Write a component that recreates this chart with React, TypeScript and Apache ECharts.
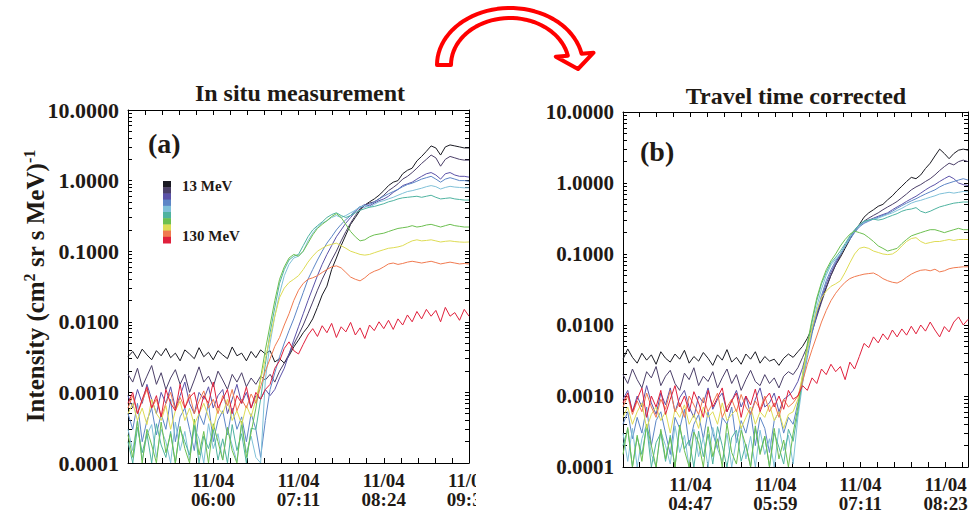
import { useEffect, useRef } from "react";
import * as echarts from "echarts";

// ---------- data ----------
const channelLabels = ["13 MeV", "130 MeV"];
const channelColors = ["#1a1a22", "#4b3f68", "#5b52a8", "#5d86c6", "#7fc0d8", "#4fb3a0", "#6cbf50", "#dedc55", "#f07a50", "#e0203c"];

// panel (a): minutes of day, 4-min samples from 04:48
const startA = 288;
const endA = 576;
const stepA = 4;
const xLabelPosA = [360, 432, 504, 576];
const xLabelsA = ["11/04\n06:00", "11/04\n07:11", "11/04\n08:24", "11/04\n09:36"];

// panel (b): 4-min samples from 03:50
const startB = 230;
const endB = 522;
const stepB = 4;
const xLabelPosB = [287, 359, 431, 503];
const xLabelsB = ["11/04\n04:47", "11/04\n05:59", "11/04\n07:11", "11/04\n08:23"];

const yTicks = [0.0001, 0.001, 0.01, 0.1, 1, 10];

const a1 = [3.2e-3,3.8e-3,3.0e-3,4.1e-3,3.4e-3,2.9e-3,3.9e-3,3.3e-3,4.2e-3,3.1e-3,3.6e-3,2.8e-3,4.0e-3,3.5e-3,3.0e-3,4.3e-3,3.2e-3,3.7e-3,2.9e-3,3.9e-3,3.4e-3,3.0e-3,4.4e-3,3.3e-3,3.6e-3,2.8e-3,3.8e-3,3.1e-3,4.0e-3,3.5e-3,
  3.9e-3,2.7e-3,3.0e-3,2.6e-3,3.3e-3,4.4e-3,5.5e-3,7e-3,8.5e-3,1.1e-2,1.6e-2,2.4e-2,3.2e-2,
  5.5e-2,8e-2,0.12,0.17,0.24,0.3,0.38,0.45,0.5,0.55,0.62,0.72,0.85,
  0.95,1.0,1.25,1.4,1.5,1.9,2.2,2.6,3.1,2.9,2.3,3.0,3.2,3.1,3.0,2.9,2.9];
const a2 = [1.8e-3,1.4e-3,2.2e-3,1.2e-3,1.7e-3,2.4e-3,1.3e-3,1.9e-3,1.1e-3,1.6e-3,2.1e-3,1.3e-3,1.8e-3,1.0e-3,1.5e-3,2.3e-3,1.4e-3,1.7e-3,1.2e-3,2.0e-3,1.5e-3,1.1e-3,1.8e-3,1.4e-3,1.9e-3,1.2e-3,1.6e-3,1.3e-3,1.7e-3,1.5e-3,
  1.8e-3,1.4e-3,2.0e-3,2.6e-3,3.5e-3,4.8e-3,6.5e-3,9e-3,1.3e-2,1.9e-2,2.8e-2,4e-2,5.5e-2,
  7.5e-2,0.1,0.14,0.19,0.25,0.32,0.4,0.45,0.48,0.5,0.55,0.62,0.72,
  0.8,0.9,1.05,1.15,1.3,1.5,1.75,2.0,2.3,2.1,1.6,2.0,2.2,2.1,2.0,1.95,1.95];
const a3 = [9e-4,6e-4,1.1e-3,7e-4,1.3e-3,8e-4,5e-4,1.0e-3,7e-4,1.2e-3,6e-4,9e-4,1.4e-3,7e-4,5e-4,1.0e-3,8e-4,1.2e-3,6e-4,9e-4,1.1e-3,5e-4,8e-4,1.3e-3,7e-4,1.0e-3,6e-4,9e-4,8e-4,1.1e-3,
  9e-4,1.1e-3,1.6e-3,2.2e-3,3.5e-3,5.5e-3,8.5e-3,1.3e-2,2e-2,3e-2,4.5e-2,6.5e-2,9e-2,
  0.12,0.16,0.2,0.25,0.3,0.36,0.42,0.46,0.44,0.48,0.52,0.55,0.6,
  0.68,0.75,0.85,0.9,0.95,1.05,1.15,1.25,1.3,1.2,1.05,1.25,1.3,1.2,1.15,1.15,1.12];
const a4 = [5e-4,3e-4,7e-4,2e-4,4e-4,6e-4,2.5e-4,5e-4,3e-4,8e-4,2e-4,4.5e-4,6e-4,3e-4,1.5e-4,5e-4,3.5e-4,7e-4,2e-4,4e-4,5.5e-4,2.5e-4,6e-4,3e-4,4.5e-4,2e-4,5e-4,3e-4,1.2e-4,4e-4,
  1.1e-3,1.9e-3,3.2e-3,5e-3,7.5e-3,1.1e-2,1.7e-2,2.6e-2,4e-2,5.5e-2,7.5e-2,0.1,0.13,
  0.16,0.2,0.24,0.28,0.32,0.38,0.43,0.42,0.46,0.5,0.55,0.6,0.65,
  0.7,0.75,0.82,0.88,0.92,0.98,1.05,1.1,1.15,1.05,0.95,1.05,1.1,1.05,1.0,1.0,0.98];
const a5 = [3e-4,1.5e-4,4e-4,1.1e-4,2.5e-4,3.5e-4,1.2e-4,3e-4,2e-4,1.0e-4,3.8e-4,1.5e-4,2.8e-4,1.1e-4,3.2e-4,2.2e-4,1.0e-4,3.6e-4,1.6e-4,2.6e-4,1.1e-4,3e-4,1.8e-4,1.05e-4,3.4e-4,1.4e-4,2.4e-4,
  1.2e-4,1.0e-4,1.5e-3,5e-3,1.2e-2,2.5e-2,4.5e-2,6.5e-2,8e-2,8.5e-2,0.1,0.14,0.18,0.22,0.25,0.27,
  0.3,0.32,0.3,0.32,0.35,0.38,0.42,0.45,0.42,0.46,0.5,0.52,0.55,
  0.58,0.62,0.66,0.7,0.72,0.75,0.78,0.82,0.85,0.82,0.76,0.8,0.83,0.81,0.8,0.79,0.79];
const a6 = [2e-4,1.0e-4,3.2e-4,1.4e-4,2.6e-4,1.0e-4,3.6e-4,1.8e-4,1.2e-4,2.8e-4,1.0e-4,3e-4,2e-4,1.3e-4,3.4e-4,1.0e-4,2.4e-4,1.6e-4,3e-4,1.1e-4,2.2e-4,1.0e-4,3.5e-4,1.5e-4,2.6e-4,1.0e-4,3.1e-4,
  3e-4,8e-4,2.5e-3,7e-3,1.6e-2,3.5e-2,5.5e-2,7.5e-2,8.5e-2,9e-2,0.12,0.16,0.2,0.23,0.26,0.3,
  0.33,0.35,0.32,0.3,0.32,0.35,0.38,0.4,0.42,0.43,0.45,0.47,0.5,
  0.52,0.55,0.57,0.58,0.59,0.6,0.58,0.6,0.62,0.58,0.55,0.56,0.57,0.55,0.54,0.53,0.53];
const a7 = [2.5e-4,1.2e-4,4e-4,1.0e-4,3e-4,1.8e-4,1.0e-4,3.8e-4,1.4e-4,2.6e-4,1.0e-4,3.3e-4,1.6e-4,1.0e-4,4.2e-4,1.3e-4,2.8e-4,1.0e-4,3.6e-4,2e-4,1.1e-4,3.2e-4,1.5e-4,1.0e-4,3.9e-4,1.2e-4,2.7e-4,
  6e-4,1.6e-3,4e-3,9e-3,2e-2,4e-2,6e-2,8e-2,9e-2,8.5e-2,0.1,0.13,0.17,0.21,0.24,0.27,
  0.31,0.34,0.3,0.24,0.19,0.16,0.14,0.145,0.16,0.17,0.175,0.18,0.19,
  0.2,0.21,0.215,0.22,0.23,0.22,0.225,0.235,0.24,0.23,0.22,0.23,0.24,0.23,0.225,0.22,0.22];
const a8 = [5e-4,7e-4,4e-4,6e-4,3.5e-4,8e-4,5e-4,4e-4,6.5e-4,3e-4,5.5e-4,7.5e-4,4e-4,6e-4,3.5e-4,5e-4,7e-4,4.5e-4,3e-4,6e-4,5e-4,8e-4,4e-4,5.5e-4,3.5e-4,6.5e-4,4.5e-4,
  8e-4,1.5e-3,3e-3,6e-3,1.2e-2,2.2e-2,3e-2,3.6e-2,4e-2,4.5e-2,5.5e-2,7e-2,8.5e-2,0.1,0.11,0.12,
  0.125,0.13,0.12,0.11,0.1,0.095,0.09,0.088,0.09,0.095,0.1,0.105,0.11,
  0.112,0.115,0.12,0.13,0.14,0.145,0.14,0.142,0.145,0.14,0.135,0.138,0.14,0.137,0.135,0.134,0.135];
const a9 = [6e-4,9e-4,5e-4,7.5e-4,1.1e-3,6e-4,8e-4,4.5e-4,7e-4,1.0e-3,5.5e-4,8.5e-4,6e-4,9.5e-4,5e-4,7.5e-4,1.05e-3,6e-4,8e-4,5e-4,9e-4,6.5e-4,1.1e-3,5.5e-4,8e-4,6e-4,9.5e-4,7e-4,
  1.2e-3,2e-3,3e-3,4.5e-3,6e-3,9e-3,1.3e-2,2e-2,2.8e-2,3.5e-2,4e-2,4.2e-2,4.5e-2,5e-2,5.5e-2,
  6e-2,6.2e-2,5.8e-2,5e-2,4.3e-2,4e-2,3.8e-2,4.2e-2,4.8e-2,5.2e-2,5.5e-2,6e-2,6.6e-2,
  6.8e-2,6.5e-2,6.7e-2,7e-2,7.2e-2,7e-2,6.8e-2,7e-2,7.2e-2,6.9e-2,6.6e-2,6.8e-2,7e-2,6.8e-2,6.6e-2,6.7e-2,6.6e-2];
const a10 = [7e-4,1.0e-3,5e-4,8e-4,1.2e-3,6e-4,9e-4,4.5e-4,1.1e-3,7e-4,5.5e-4,1.3e-3,6e-4,8.5e-4,1.0e-3,5e-4,9e-4,7e-4,1.4e-3,6e-4,8e-4,1.1e-3,5e-4,9e-4,7e-4,1.2e-3,6e-4,1.0e-3,8e-4,1.1e-3,
  1.3e-3,2.2e-3,2.8e-3,4.2e-3,5.2e-3,3.9e-3,3.5e-3,4.8e-3,6.5e-3,8e-3,6.2e-3,8.8e-3,7.0e-3,
  9.5e-3,6.0e-3,8.5e-3,7.2e-3,9.8e-3,6.5e-3,8.2e-3,5.8e-3,9.0e-3,7.5e-3,1.0e-2,8.0e-3,1.05e-2,
  7.8e-3,1.1e-2,9e-3,1.25e-2,1.0e-2,1.4e-2,1.1e-2,1.5e-2,1.2e-2,1.45e-2,1.0e-2,1.6e-2,1.2e-2,1.35e-2,1.05e-2,1.5e-2,1.2e-2];

const b1 = [3.3e-3,4.6e-3,3.5e-3,2.9e-3,4.0e-3,3.2e-3,3.8e-3,2.8e-3,4.2e-3,3.4e-3,3.0e-3,3.9e-3,3.3e-3,4.4e-3,2.9e-3,3.6e-3,3.1e-3,4.1e-3,3.4e-3,2.7e-3,3.8e-3,3.2e-3,4.5e-3,3.0e-3,3.5e-3,2.8e-3,3.9e-3,3.3e-3,4.2e-3,2.9e-3,3.6e-3,3.1e-3,3.3e-3,2.7e-3,3.4e-3,3.9e-3,3.5e-3,
  4.2e-3,5e-3,6.5e-3,9e-3,1.4e-2,2.2e-2,3.4e-2,5e-2,7e-2,0.09,0.12,0.16,0.21,0.26,0.33,0.38,0.42,0.47,0.5,0.58,0.66,0.78,0.9,1.05,1.2,1.15,1.3,1.6,1.9,2.4,3.0,2.6,2.2,2.6,2.9,3.0,2.9];
const b2 = [2.0e-3,1.5e-3,2.4e-3,1.7e-3,1.3e-3,2.2e-3,1.8e-3,2.6e-3,1.4e-3,1.9e-3,2.3e-3,1.5e-3,1.2e-3,2.1e-3,1.7e-3,2.5e-3,1.4e-3,1.9e-3,1.6e-3,2.2e-3,1.3e-3,1.8e-3,2.4e-3,1.5e-3,2.0e-3,1.2e-3,1.7e-3,2.3e-3,1.6e-3,1.4e-3,2.0e-3,1.5e-3,1.8e-3,1.3e-3,1.9e-3,2.2e-3,2.0e-3,
  2.5e-3,3.5e-3,5e-3,8e-3,1.3e-2,2.1e-2,3.3e-2,5e-2,7e-2,0.095,0.13,0.17,0.21,0.25,0.29,0.32,0.35,0.38,0.42,0.46,0.5,0.55,0.62,0.7,0.8,0.88,0.95,1.05,1.15,1.3,1.5,1.7,1.9,1.8,2.0,2.1,2.0];
const b3 = [9e-4,1.2e-3,6e-4,1.0e-3,7e-4,1.4e-3,8e-4,5.5e-4,1.1e-3,7.5e-4,1.3e-3,6e-4,9.5e-4,1.2e-3,7e-4,5e-4,1.0e-3,8e-4,1.3e-3,6.5e-4,9e-4,1.1e-3,6e-4,8.5e-4,1.2e-3,7e-4,1.0e-3,5.5e-4,9e-4,1.3e-3,7e-4,8e-4,1.1e-3,6e-4,9e-4,1.0e-3,1.2e-3,
  1.6e-3,2.5e-3,4.5e-3,8e-3,1.4e-2,2.4e-2,3.8e-2,5.5e-2,7.5e-2,0.1,0.13,0.17,0.21,0.25,0.28,0.3,0.32,0.34,0.36,0.38,0.42,0.46,0.5,0.55,0.6,0.65,0.72,0.8,0.88,0.95,1.05,1.15,1.25,1.15,1.0,0.95,0.92];
const b4 = [4e-4,6e-4,2.5e-4,5e-4,3e-4,7e-4,2e-4,4.5e-4,6e-4,3e-4,1.5e-4,5e-4,3.5e-4,6.5e-4,2e-4,4e-4,5.5e-4,2.5e-4,6e-4,3e-4,1.8e-4,5e-4,4e-4,7e-4,2.2e-4,4.5e-4,3e-4,6e-4,2e-4,5e-4,3.5e-4,1.6e-4,4.5e-4,6e-4,3e-4,5e-4,4e-4,
  8e-4,1.6e-3,3.5e-3,7.5e-3,1.5e-2,2.6e-2,4.2e-2,6e-2,8e-2,0.1,0.13,0.16,0.2,0.24,0.27,0.29,0.31,0.33,0.35,0.37,0.4,0.44,0.48,0.52,0.56,0.6,0.65,0.7,0.75,0.8,0.88,0.95,1.0,1.05,1.1,1.15,1.1];
const b5 = [3e-4,1.2e-4,3.5e-4,1.0e-4,2.5e-4,4e-4,1.5e-4,1.0e-4,3.2e-4,2e-4,1.1e-4,3.8e-4,1.6e-4,2.8e-4,1.0e-4,3.4e-4,1.4e-4,2.6e-4,1.0e-4,3.6e-4,1.8e-4,1.2e-4,3e-4,1.0e-4,2.4e-4,3.8e-4,1.3e-4,2.7e-4,1.0e-4,3.3e-4,1.5e-4,2.5e-4,1.0e-4,3.5e-4,1.7e-4,2.8e-4,1.1e-4,
  5e-4,1.5e-3,4e-3,9e-3,1.8e-2,3.2e-2,5e-2,7e-2,8.5e-2,0.1,0.13,0.17,0.21,0.25,0.28,0.3,0.31,0.32,0.34,0.36,0.38,0.41,0.44,0.48,0.52,0.55,0.57,0.6,0.63,0.66,0.7,0.72,0.74,0.72,0.74,0.76,0.75];
const b6 = [2e-4,3.4e-4,1.0e-4,2.6e-4,1.5e-4,3.8e-4,1.0e-4,2.2e-4,3e-4,1.2e-4,2.8e-4,1.0e-4,3.6e-4,1.8e-4,2.4e-4,1.0e-4,3.2e-4,1.4e-4,2.9e-4,1.1e-4,3.7e-4,2e-4,1.0e-4,2.6e-4,3.3e-4,1.2e-4,2.1e-4,1.0e-4,3.5e-4,1.6e-4,2.7e-4,1.0e-4,3e-4,1.9e-4,1.1e-4,3.4e-4,2.3e-4,
  6e-4,1.8e-3,5e-3,1.1e-2,2.2e-2,3.8e-2,5.5e-2,7.5e-2,9e-2,0.11,0.14,0.18,0.22,0.26,0.29,0.3,0.31,0.3,0.31,0.33,0.35,0.37,0.4,0.42,0.43,0.45,0.4,0.38,0.4,0.43,0.46,0.48,0.5,0.52,0.53,0.54,0.54];
const b7 = [1.5e-4,3.6e-4,1.0e-4,2.8e-4,1.2e-4,4e-4,2e-4,1.0e-4,3.4e-4,1.3e-4,2.6e-4,1.0e-4,3.9e-4,1.7e-4,1.0e-4,3.1e-4,2.2e-4,1.0e-4,3.7e-4,1.4e-4,2.5e-4,1.0e-4,4.1e-4,1.6e-4,1.1e-4,3.3e-4,2e-4,1.0e-4,3.8e-4,1.5e-4,2.7e-4,1.0e-4,3.5e-4,1.3e-4,2.4e-4,1.0e-4,3e-4,
  7e-4,2e-3,5.5e-3,1.2e-2,2.4e-2,4e-2,6e-2,8e-2,0.1,0.13,0.16,0.19,0.21,0.2,0.19,0.17,0.15,0.13,0.12,0.11,0.115,0.12,0.14,0.16,0.18,0.19,0.2,0.21,0.22,0.22,0.21,0.2,0.21,0.22,0.23,0.22,0.22];
const b8 = [5e-4,7e-4,4e-4,6e-4,8e-4,3.5e-4,5.5e-4,7e-4,4.5e-4,6e-4,3e-4,6.5e-4,5e-4,7.5e-4,4e-4,5.5e-4,3.5e-4,7e-4,5e-4,6e-4,4e-4,8e-4,4.5e-4,5.5e-4,6.5e-4,3.5e-4,5e-4,7e-4,4e-4,6e-4,5e-4,7.5e-4,4.5e-4,6e-4,3.5e-4,5.5e-4,6e-4,
  9e-4,2e-3,4.5e-3,9e-3,1.6e-2,2.4e-2,3e-2,3.5e-2,3.8e-2,4.2e-2,5.5e-2,7.5e-2,0.1,0.12,0.125,0.12,0.11,0.105,0.1,0.098,0.1,0.11,0.13,0.15,0.165,0.17,0.15,0.14,0.145,0.15,0.15,0.155,0.16,0.155,0.16,0.16,0.16];
const b9 = [7e-4,1.0e-3,5.5e-4,8.5e-4,6e-4,1.1e-3,7e-4,5e-4,9e-4,6.5e-4,1.2e-3,6e-4,8e-4,5e-4,1.0e-3,7.5e-4,5.5e-4,9.5e-4,6e-4,8e-4,1.1e-3,5e-4,7e-4,9e-4,6e-4,1.05e-3,7e-4,5.5e-4,8.5e-4,6.5e-4,1.0e-3,6e-4,8e-4,5e-4,9e-4,7e-4,8e-4,
  1.0e-3,1.6e-3,2.8e-3,4.5e-3,7e-3,1.1e-2,1.6e-2,2.2e-2,2.8e-2,3.4e-2,4e-2,4.5e-2,4.8e-2,5e-2,5.2e-2,5.3e-2,5.4e-2,5e-2,4.5e-2,4.2e-2,4e-2,3.9e-2,4.2e-2,4.7e-2,5.2e-2,5.6e-2,5.9e-2,6e-2,5.8e-2,6.1e-2,5.6e-2,5.8e-2,6.2e-2,6.4e-2,6.5e-2,6.6e-2,6.6e-2];
const b10 = [8e-4,1.1e-3,6e-4,9e-4,1.3e-3,5e-4,1.0e-3,7e-4,1.2e-3,5.5e-4,9e-4,1.4e-3,7e-4,1.0e-3,6e-4,1.15e-3,8e-4,5e-4,1.2e-3,7e-4,9.5e-4,1.3e-3,6e-4,8.5e-4,1.1e-3,5e-4,1.0e-3,7.5e-4,1.25e-3,6e-4,9e-4,1.1e-3,7e-4,1.0e-3,6.5e-4,1.2e-3,9e-4,
  1.0e-3,1.4e-3,1.2e-3,1.8e-3,1.5e-3,2.4e-3,2.0e-3,2.8e-3,2.2e-3,2.6e-3,1.7e-3,3.0e-3,2.4e-3,3.6e-3,5.5e-3,4.8e-3,6.8e-3,5.6e-3,7.5e-3,6.2e-3,8.5e-3,6.8e-3,8.8e-3,7.2e-3,9.6e-3,7.5e-3,1.0e-2,8.2e-3,1.1e-2,8.5e-3,6.8e-3,9.5e-3,8e-3,1.1e-2,1.3e-2,1.0e-2,1.2e-2];

const panelA = [a1, a2, a3, a4, a5, a6, a7, a8, a9, a10];
const panelB = [b1, b2, b3, b4, b5, b6, b7, b8, b9, b10];

// ---------- styling ----------
const FONT = '"Liberation Serif", "Times New Roman", serif';
const INK = "#1f1a15";

function tickRange(anchor: number, step: number, lo: number, hi: number) {
  const out: number[] = [];
  let s = anchor;
  while (s - step >= lo - 1e-6) s -= step;
  for (let v = s; v <= hi + 1e-6; v += step) out.push(Math.round(v * 100) / 100);
  return out;
}

function logMinorTicks() {
  const out: number[] = [];
  for (let d = -4; d <= 0; d++) {
    for (let k = 1; k <= 9; k++) out.push(Number((k * Math.pow(10, d)).toPrecision(3)));
  }
  out.push(10);
  return out;
}

function xAxes(gridIndex: number, min: number, max: number, labelPos: number[], labels: string[]) {
  const ticks = tickRange(labelPos[0], 14.4, min, max);
  const common = {
    type: "value",
    gridIndex,
    min,
    max,
    splitLine: { show: false },
    axisLine: { show: true, onZero: false, lineStyle: { color: "#000", width: 1 } },
    axisTick: { show: true, inside: true, length: 5, customValues: ticks, lineStyle: { color: "#000", width: 1 } },
  };
  return [
    {
      ...common,
      position: "bottom",
      axisLabel: {
        show: true,
        customValues: labelPos,
        formatter: (v: number) => {
          const i = labelPos.findIndex((p) => Math.abs(p - v) < 0.5);
          return i >= 0 ? labels[i] : "";
        },
        fontFamily: FONT,
        fontWeight: "bold",
        fontSize: 19,
        lineHeight: 19,
        color: INK,
        margin: 8,
      },
    },
    { ...common, position: "top", axisLabel: { show: false } },
  ];
}

function yAxes(gridIndex: number, labelSize: number) {
  const common = {
    type: "log",
    logBase: 10,
    gridIndex,
    min: 0.0001,
    max: 10,
    splitLine: { show: false },
    axisLine: { show: true, onZero: false, lineStyle: { color: "#000", width: 1 } },
    axisTick: { show: true, inside: true, length: 4, customValues: logMinorTicks(), lineStyle: { color: "#000", width: 1 } },
  };
  return [
    {
      ...common,
      position: "left",
      axisLabel: {
        show: true,
        customValues: yTicks,
        formatter: (v: number) => v.toFixed(4),
        fontFamily: FONT,
        fontWeight: "bold",
        fontSize: labelSize,
        color: INK,
        margin: 9,
      },
    },
    { ...common, position: "right", axisLabel: { show: false } },
  ];
}

function arrowPoints() {
  const cx = 510, cy = 65;
  const outer: number[][] = [];
  const inner: number[][] = [];
  const tEnd = 0.2;
  const n = 40;
  for (let j = 0; j <= n; j++) {
    const t = Math.PI - (Math.PI - tEnd) * (j / n);
    outer.push([cx + 73 * Math.cos(t), cy - 57 * Math.sin(t)]);
    inner.push([cx + 59 * Math.cos(t), cy - 47 * Math.sin(t)]);
  }
  const oEnd = outer[outer.length - 1];
  const iEnd = inner[inner.length - 1];
  return [...outer, [oEnd[0] + 12, oEnd[1] - 1], [578, 69], [iEnd[0] - 12, iEnd[1] + 1], ...inner.reverse()];
}

export default function App() {
  const ref = useRef<HTMLDivElement>(null);

  useEffect(() => {
    if (!ref.current) return;
    const chart = echarts.init(ref.current, null, { renderer: "svg" });

    const series: any[] = [];
    panelA.forEach((arr, c) => {
      series.push({
        type: "line",
        xAxisIndex: 0,
        yAxisIndex: 0,
        data: arr.map((v, i) => [startA + i * stepA, v]),
        showSymbol: false,
        symbol: "none",
        silent: true,
        lineStyle: { width: 1, color: channelColors[c] },
        itemStyle: { color: channelColors[c] },
      });
    });
    panelB.forEach((arr, c) => {
      series.push({
        type: "line",
        xAxisIndex: 2,
        yAxisIndex: 2,
        data: arr.map((v, i) => [startB + i * stepB, v]),
        showSymbol: false,
        symbol: "none",
        silent: true,
        lineStyle: { width: 1, color: channelColors[c] },
        itemStyle: { color: channelColors[c] },
      });
    });

    const barTop = 181;
    const barH = 62 / channelColors.length;
    const colorbar = channelColors.map((col, k) => ({
      type: "rect",
      shape: { x: 163, y: barTop + k * barH, width: 8, height: barH + 0.5 },
      style: { fill: col },
      silent: true,
    }));

    chart.setOption({
      animation: false,
      backgroundColor: "#fff",
      grid: [
        { left: 128, top: 110, width: 341, height: 353, show: false },
        { left: 623, top: 112, width: 345, height: 355, show: false },
      ],
      xAxis: [...xAxes(0, startA, endA, xLabelPosA, xLabelsA), ...xAxes(1, startB, endB, xLabelPosB, xLabelsB)],
      yAxis: [...yAxes(0, 22), ...yAxes(1, 21)],
      series,
      graphic: [
        {
          type: "text",
          x: 300,
          y: 93,
          style: { text: "In situ measurement", font: `bold 24px ${FONT}`, fill: INK, align: "center", verticalAlign: "middle" },
        },
        {
          type: "text",
          x: 796,
          y: 96,
          style: { text: "Travel time corrected", font: `bold 24px ${FONT}`, fill: INK, align: "center", verticalAlign: "middle" },
        },
        {
          type: "text",
          x: 148,
          y: 143,
          style: { text: "(a)", font: `bold 28px ${FONT}`, fill: INK, align: "left", verticalAlign: "middle" },
        },
        {
          type: "text",
          x: 640,
          y: 151,
          style: { text: "(b)", font: `bold 28px ${FONT}`, fill: INK, align: "left", verticalAlign: "middle" },
        },
        {
          type: "text",
          x: 35,
          y: 286,
          rotation: Math.PI / 2,
          style: {
            text: "{m|Intensity (cm}{s|2}{m| sr s MeV)}{s|-1}",
            align: "center",
            verticalAlign: "middle",
            fill: INK,
            rich: {
              m: { fontFamily: FONT, fontWeight: "bold", fontSize: 25, lineHeight: 27, fill: INK, color: INK },
              s: { fontFamily: FONT, fontWeight: "bold", fontSize: 16, lineHeight: 16, verticalAlign: "top", fill: INK, color: INK },
            },
          },
        },
        ...colorbar,
        {
          type: "text",
          x: 182,
          y: 186,
          style: { text: channelLabels[0], font: `bold 15px ${FONT}`, fill: INK, align: "left", verticalAlign: "middle" },
        },
        {
          type: "text",
          x: 182,
          y: 236,
          style: { text: channelLabels[1], font: `bold 15px ${FONT}`, fill: INK, align: "left", verticalAlign: "middle" },
        },
        {
          type: "rect",
          z: 100,
          shape: { x: 476, y: 466, width: 60, height: 47 },
          style: { fill: "#fff" },
          silent: true,
        },
        {
          type: "polygon",
          z: 100,
          shape: { points: arrowPoints() },
          style: { fill: "#fff", stroke: "#ff0000", lineWidth: 4, lineJoin: "round" },
          silent: true,
        },
      ],
    });

    return () => chart.dispose();
  }, []);

  return (
    <div
      ref={ref}
      style={{ position: "fixed", left: 0, top: 0, width: 972, height: 513, background: "#fff" }}
    />
  );
}
